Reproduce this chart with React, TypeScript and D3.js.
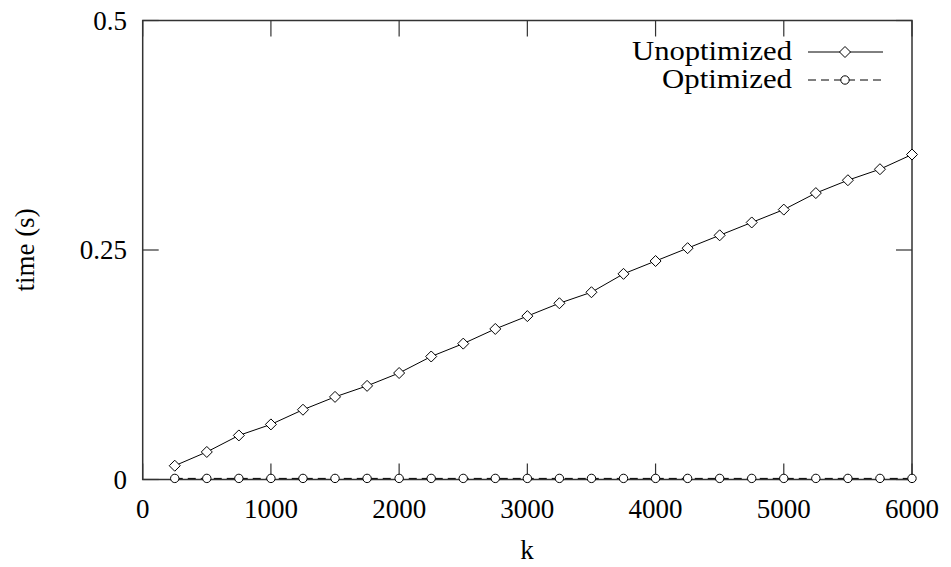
import React from "react";
import * as d3 from "d3";

const kValues = [250, 500, 750, 1000, 1250, 1500, 1750, 2000, 2250, 2500, 2750, 3000, 3250, 3500, 3750, 4000, 4250, 4500, 4750, 5000, 5250, 5500, 5750, 6000];
const unoptimized = [0.015, 0.030, 0.048, 0.060, 0.076, 0.090, 0.102, 0.116, 0.134, 0.148, 0.164, 0.178, 0.192, 0.204, 0.224, 0.238, 0.252, 0.266, 0.280, 0.294, 0.312, 0.326, 0.338, 0.354];
const optimized = [0.0012, 0.0012, 0.0012, 0.0012, 0.0012, 0.0012, 0.0012, 0.0012, 0.0012, 0.0012, 0.0012, 0.0012, 0.0012, 0.0012, 0.0012, 0.0012, 0.0012, 0.0012, 0.0012, 0.0012, 0.0012, 0.0012, 0.0012, 0.0012];
const xTicks = [0, 1000, 2000, 3000, 4000, 5000, 6000];
const yTicks = [0, 0.25, 0.5];
const yTickLabels = ["0", "0.25", "0.5"];
const seriesNames = ["Unoptimized", "Optimized"];

const W = 951, H = 567;
const L = 142.7, R = 912, T = 20.5, B = 479.5;
const FONT = "Liberation Serif, DejaVu Serif, Times New Roman, serif";

function Diamond({ x, y, s = 5.5 }: { x: number; y: number; s?: number }) {
  return <path d={`M${x},${y - s}L${x + s},${y}L${x},${y + s}L${x - s},${y}Z`} fill="white" stroke="black" strokeWidth={1} />;
}
function Circle({ x, y }: { x: number; y: number }) {
  return <circle cx={x} cy={y} r={4.2} fill="white" stroke="black" strokeWidth={1} />;
}

export default function App() {
  const x = d3.scaleLinear().domain([0, 6000]).range([L, R]);
  const y = d3.scaleLinear().domain([0, 0.5]).range([B, T]);
  const line = d3.line<number>().x((_, i) => x(kValues[i])).y((d) => y(d));
  const tick = 16;
  const axisColor = "#333";
  const ts = { fontFamily: FONT, fontSize: 27 } as React.CSSProperties;
  return (
    <svg width={W} height={H} style={{ position: "absolute", left: 0, top: 0, background: "white" }}>
      <rect x={0} y={0} width={W} height={H} fill="white" />
      {xTicks.map((t) => (
        <g key={"x" + t}>
          <line x1={x(t)} x2={x(t)} y1={B} y2={B - tick} stroke={axisColor} strokeWidth={1.2} />
          <line x1={x(t)} x2={x(t)} y1={T} y2={T + tick} stroke={axisColor} strokeWidth={1.2} />
          <text x={x(t)} y={B + 38} textAnchor="middle" style={ts}>{t}</text>
        </g>
      ))}
      {yTicks.map((t, i) => (
        <g key={"y" + t}>
          <line x1={L} x2={L + tick} y1={y(t)} y2={y(t)} stroke={axisColor} strokeWidth={1.2} />
          <line x1={R} x2={R - tick} y1={y(t)} y2={y(t)} stroke={axisColor} strokeWidth={1.2} />
          <text x={127} y={y(t) + 9} textAnchor="end" style={ts}>{yTickLabels[i]}</text>
        </g>
      ))}
      <rect x={L} y={T} width={R - L} height={B - T} fill="none" stroke={axisColor} strokeWidth={1.5} />
      <path d={line(optimized) || ""} fill="none" stroke="black" strokeWidth={1} strokeDasharray="8,5" />
      <path d={line(unoptimized) || ""} fill="none" stroke="black" strokeWidth={1} />
      {optimized.map((v, i) => <Circle key={"o" + i} x={x(kValues[i])} y={y(v)} />)}
      {unoptimized.map((v, i) => <Diamond key={"u" + i} x={x(kValues[i])} y={y(v)} />)}
      <text x={792} y={60} textAnchor="end" style={{ fontFamily: FONT, fontSize: 28 }} textLength={160} lengthAdjust="spacingAndGlyphs">{seriesNames[0]}</text>
      <line x1={808} x2={883} y1={52} y2={52} stroke="black" strokeWidth={1} />
      <Diamond x={845} y={52} />
      <text x={792} y={88} textAnchor="end" style={{ fontFamily: FONT, fontSize: 28 }} textLength={130} lengthAdjust="spacingAndGlyphs">{seriesNames[1]}</text>
      <line x1={808} x2={883} y1={80} y2={80} stroke="black" strokeWidth={1} strokeDasharray="8,5" />
      <Circle x={845} y={80} />
      <text x={527} y={559} textAnchor="middle" style={ts}>k</text>
      <text transform={`translate(34,250) rotate(-90)`} textAnchor="middle" style={ts}>time (s)</text>
    </svg>
  );
}
